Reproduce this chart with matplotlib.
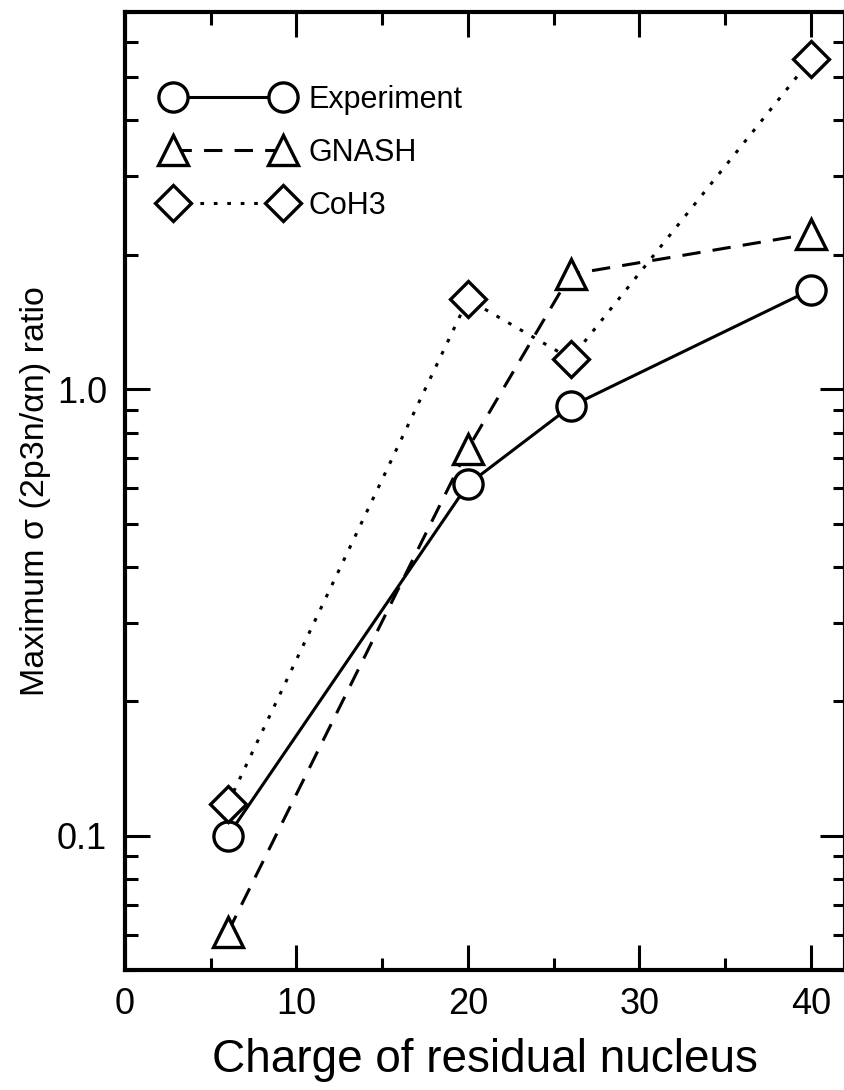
import matplotlib
matplotlib.use("Agg")
import matplotlib.pyplot as plt
from matplotlib.ticker import FixedLocator, LogLocator, NullFormatter, FixedFormatter

# charge of residual nucleus
charge = [6, 20, 26, 40]
# maximum sigma(2p3n / alpha n) ratio
experiment = [0.100, 0.612, 0.916, 1.67]
gnash = [0.0608, 0.736, 1.81, 2.23]
coh3 = [0.118, 1.59, 1.17, 5.48]

plt.rcParams.update({"font.family": ["Liberation Sans", "DejaVu Sans"]})

fig = plt.figure(figsize=(8.45, 10.9), dpi=100)
ax = fig.add_axes([0.148, 0.110, 0.852, 0.879])

lw, ms, mew = 2.2, 21, 2.4
common = dict(color="black", lw=lw, ms=ms, mew=mew, mfc="white", mec="black", clip_on=False)
ax.plot(charge, experiment, "o-", label="Experiment", **common)
ax.plot(charge, gnash, "^", ls=(0, (6, 4)), label="GNASH", **common)
ax.plot(charge, coh3, "D", ls=(0, (1.2, 3.2)), label="CoH3", **dict(common, ms=ms * 0.86))

ax.set_yscale("log")
ax.set_xlim(0, 42)
ax.set_ylim(0.05, 7.0)

ax.xaxis.set_major_locator(FixedLocator([0, 10, 20, 30, 40]))
ax.xaxis.set_minor_locator(FixedLocator([5, 15, 25, 35]))
ax.yaxis.set_major_locator(FixedLocator([0.1, 1.0]))
ax.yaxis.set_major_formatter(FixedFormatter(["0.1", "1.0"]))
ax.yaxis.set_minor_locator(LogLocator(base=10, subs=range(2, 10)))
ax.yaxis.set_minor_formatter(NullFormatter())

for s in ax.spines.values():
    s.set_linewidth(3)
ax.tick_params(which="both", direction="in", top=True, right=True, width=2.2, labelsize=26)
ax.tick_params(which="major", length=18)
ax.tick_params(which="minor", length=9)
ax.tick_params(axis="x", pad=12)
ax.tick_params(axis="y", pad=13)

ax.set_xlabel("Charge of residual nucleus", fontsize=33, labelpad=12)
ax.set_ylabel("Maximum σ (2p3n/αn) ratio", fontsize=24.5, labelpad=4)

ax.legend(loc="upper left", bbox_to_anchor=(0.0375, 0.937), frameon=False, numpoints=2,
          handlelength=4.2, handletextpad=0.52, labelspacing=0.76, fontsize=22,
          borderaxespad=0)

fig.savefig("out.png", dpi=100)
